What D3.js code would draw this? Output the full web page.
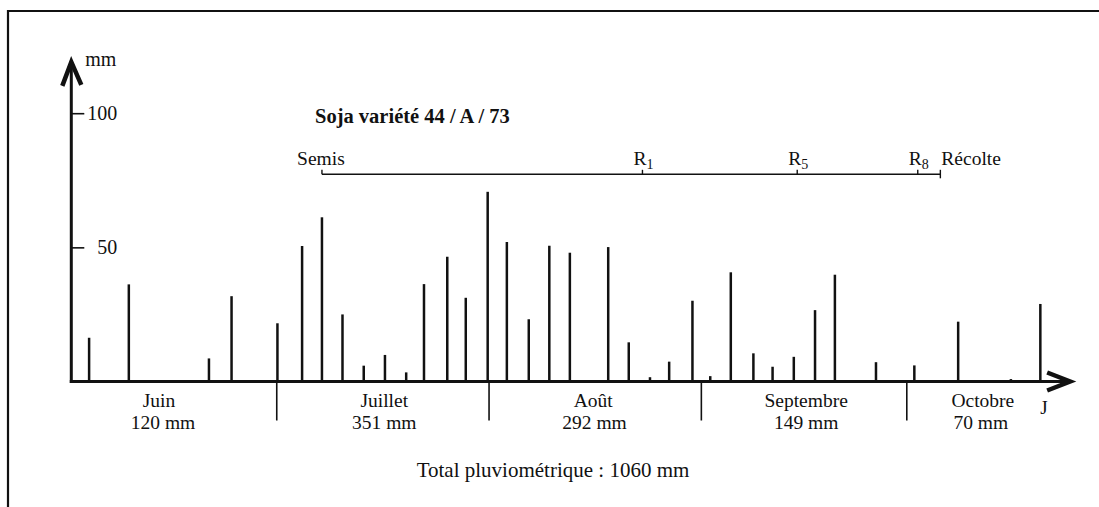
<!DOCTYPE html>
<html>
<head>
<meta charset="utf-8">
<script src="https://cdn.jsdelivr.net/npm/d3@7"></script>
<style>
  body { margin: 0; background: #fff; }
  svg { display: block; }
  text { font-family: "Liberation Serif", "Times New Roman", serif; fill: #111; }
</style>
</head>
<body>
<svg id="chart" width="1099" height="507"></svg>
<script>
// Pluie journalière (mm) ; jours comptés depuis le 1er juin
const jours = [2.6, 8.4, 20.1, 23.4, 30.1, 33.7, 36.6, 39.6, 42.7, 45.8, 48.9,
  51.5, 54.9, 57.6, 60.8, 63.6, 66.8, 69.8, 72.8, 78.4, 81.4, 84.5, 87.3, 90.7,
  93.3, 96.3, 99.6, 102.4, 105.5, 108.6, 111.5, 117.5, 123.1, 129.5, 137.2, 141.5];
const pluie = [16.3, 36.2, 8.6, 31.8, 21.7, 50.5, 61.2, 25.0, 5.9, 9.9, 3.4,
  36.3, 46.5, 31.2, 70.7, 52.0, 23.2, 50.6, 48.0, 50.1, 14.6, 1.6, 7.4, 30.1,
  2.0, 40.7, 10.5, 5.5, 9.2, 26.6, 39.8, 7.2, 6.0, 22.3, 0.9, 28.9];

// Mois et cumuls mensuels
const mois = ["Juin", "Juillet", "Août", "Septembre", "Octobre"];
const moisDebut = [0, 30, 61, 92, 122];
const cumulMois = [120, 351, 292, 149, 70];

// Graduations de l'axe des pluies
const yTicks = [50, 100];

// Stades de la culture
const stadeNom = ["Semis", "R", "R", "R", "Récolte"];
const stadeIndice = ["", "1", "5", "8", ""];
const stadeJour = [36.6, 83.4, 106.0, 123.6, 126.9];

const titre = "Soja variété 44 / A / 73";
const totalPluvio = 1060;

// ---- mise en page ----
const W = 1099, H = 507;
const ink = "#111";
const jourFin = 146;        // extrémité de l'axe des jours
const pluieHaut = 119.5;    // extrémité de l'axe des pluies
const centreMois = [12.8, 45.7, 76.2, 107.3, 133.1];
const centreCumul = [13.4, 45.7, 76.4, 107.3, 132.8];

const svg = d3.select("#chart");
svg.append("rect").attr("width", W).attr("height", H).attr("fill", "#fff");

const x = d3.scaleLinear().domain([0, 122]).range([71.3, 906.8]);
const y = d3.scaleLinear().domain([0, 100]).range([381.5, 113.2]);

// cadre (haut et gauche)
svg.append("path")
  .attr("d", `M8,${H} L8,11 L${W},11`)
  .attr("fill", "none").attr("stroke", ink).attr("stroke-width", 2.2);

// barres de pluie
svg.append("g").selectAll("line")
  .data(jours.map((j, i) => ({ j, p: pluie[i] })))
  .join("line")
  .attr("x1", d => x(d.j)).attr("x2", d => x(d.j))
  .attr("y1", y(0)).attr("y2", d => y(d.p))
  .attr("stroke", ink).attr("stroke-width", 2.5);

// axe des pluies avec graduations
const yAxis = d3.axisRight(y).tickValues(yTicks).tickSize(13).tickSizeOuter(0);
const gy = svg.append("g").attr("transform", `translate(${x(0)},0)`).call(yAxis);
gy.select(".domain").remove();
gy.selectAll(".tick line").attr("stroke", ink).attr("stroke-width", 1.6);
gy.selectAll(".tick text")
  .attr("x", 46).attr("text-anchor", "end")
  .style("font-size", "20px").attr("fill", ink)
  .attr("font-family", null);

svg.append("line")
  .attr("x1", x(0)).attr("x2", x(0))
  .attr("y1", y(0) + 1.5).attr("y2", y(pluieHaut))
  .attr("stroke", ink).attr("stroke-width", 3);
const yt = y(pluieHaut);
svg.append("path")
  .attr("d", `M${x(0) - 9},${yt + 25} L${x(0)},${yt + 1} L${x(0) + 10},${yt + 24}`)
  .attr("fill", "none").attr("stroke", ink).attr("stroke-width", 4.5)
  .attr("stroke-linejoin", "miter");
svg.append("text").attr("x", x(0) + 14).attr("y", yt + 5)
  .style("font-size", "20px").text("mm");

// axe des jours
const xEnd = x(jourFin);
svg.append("line")
  .attr("x1", x(0) - 1.5).attr("x2", xEnd - 2)
  .attr("y1", y(0)).attr("y2", y(0))
  .attr("stroke", ink).attr("stroke-width", 3);
svg.append("path")
  .attr("d", `M${xEnd - 24},${y(0) - 9} L${xEnd - 1},${y(0)} L${xEnd - 24},${y(0) + 9}`)
  .attr("fill", "none").attr("stroke", ink).attr("stroke-width", 4.5);
svg.append("text").attr("x", xEnd - 31).attr("y", y(0) + 32)
  .style("font-size", "19px").text("J");

// séparations des mois
svg.append("g").selectAll("line")
  .data(moisDebut.slice(1))
  .join("line")
  .attr("x1", d => x(d)).attr("x2", d => x(d))
  .attr("y1", y(0)).attr("y2", y(0) + 39)
  .attr("stroke", ink).attr("stroke-width", 1.6);

// noms des mois et cumuls
const gm = svg.append("g").attr("text-anchor", "middle").style("font-size", "19.5px");
gm.selectAll("text.mois")
  .data(mois)
  .join("text").attr("class", "mois")
  .attr("x", (d, i) => x(centreMois[i])).attr("y", y(0) + 25)
  .text(d => d);
gm.selectAll("text.cumul")
  .data(cumulMois)
  .join("text").attr("class", "cumul")
  .attr("x", (d, i) => x(centreCumul[i])).attr("y", y(0) + 47)
  .text(d => `${d} mm`);

svg.append("text").attr("x", 553).attr("y", 477)
  .attr("text-anchor", "middle").style("font-size", "21px")
  .text(`Total pluviométrique : ${totalPluvio} mm`);

// titre
svg.append("text").attr("x", 315).attr("y", 123)
  .style("font-size", "20.5px").style("font-weight", "bold")
  .text(titre);

// stades : ligne du semis à la récolte
const yS = 174.3;
svg.append("line")
  .attr("x1", x(stadeJour[0])).attr("x2", x(stadeJour[stadeJour.length - 1]))
  .attr("y1", yS).attr("y2", yS)
  .attr("stroke", ink).attr("stroke-width", 1.6);
svg.append("g").selectAll("line")
  .data(stadeJour)
  .join("line")
  .attr("x1", d => x(d)).attr("x2", d => x(d))
  .attr("y1", yS - 4.5)
  .attr("y2", (d, i) => i === stadeJour.length - 1 ? yS + 4 : yS)
  .attr("stroke", ink).attr("stroke-width", 1.4);

const gs = svg.append("g").style("font-size", "19.5px");
stadeNom.forEach((nom, i) => {
  const last = i === stadeNom.length - 1;
  const t = gs.append("text")
    .attr("x", x(stadeJour[i]) + (last ? 1 : (stadeIndice[i] ? 1 : -1)))
    .attr("y", 165)
    .attr("text-anchor", last ? "start" : "middle");
  t.append("tspan").text(nom);
  if (stadeIndice[i]) {
    t.append("tspan").attr("dy", 4).style("font-size", "14px").text(stadeIndice[i]);
  }
});
</script>
</body>
</html>
